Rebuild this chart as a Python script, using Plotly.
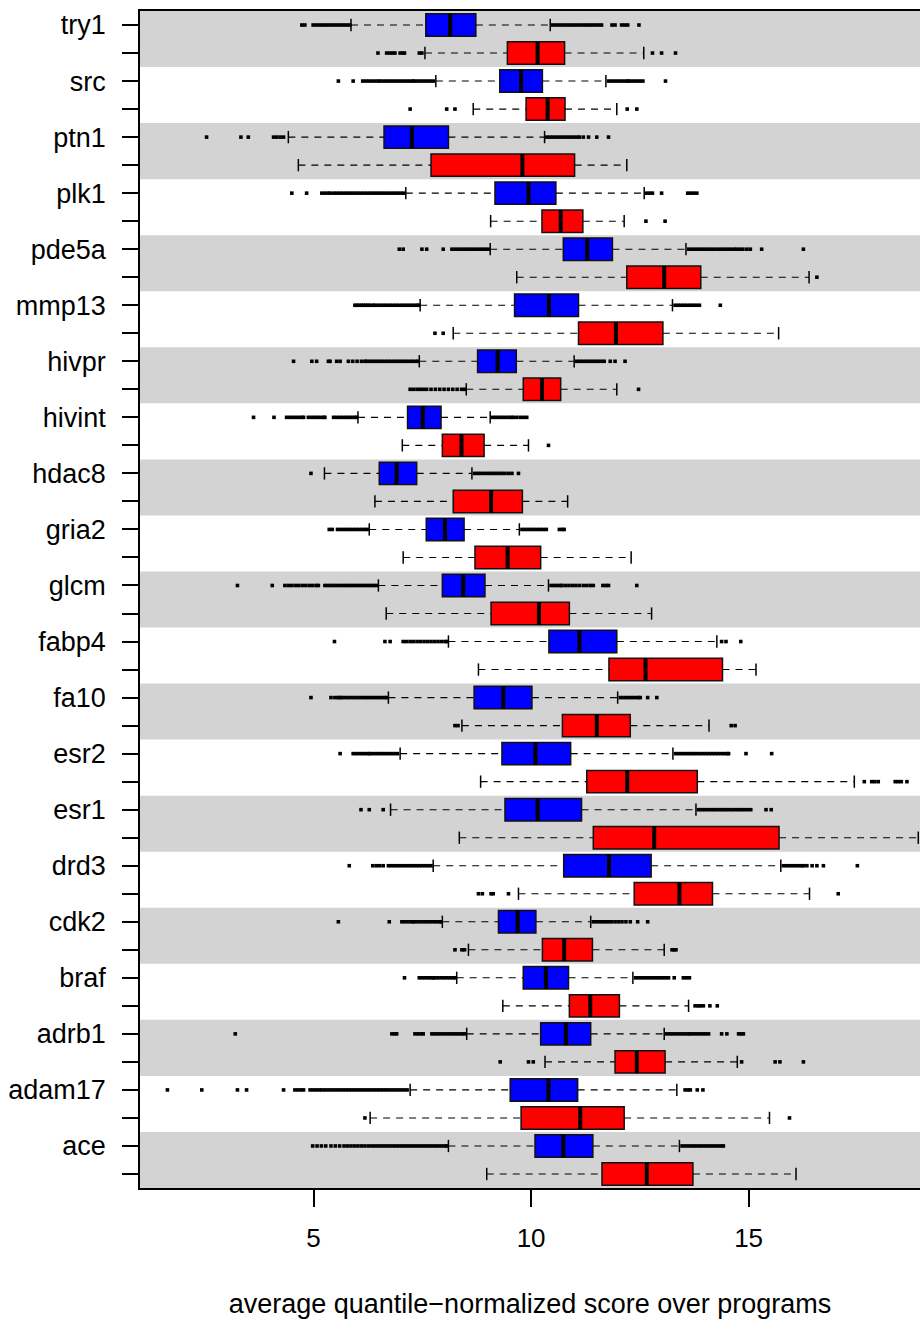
import plotly.graph_objects as go

targets = ["try1", "src", "ptn1", "plk1", "pde5a", "mmp13", "hivpr", "hivint", "hdac8", "gria2",
           "glcm", "fabp4", "fa10", "esr2", "esr1", "drd3", "cdk2", "braf", "adrb1", "adam17", "ace"]

blue_lo = [5.86, 7.81, 4.42, 7.12, 9.06, 7.45, 7.43, 6.02, 5.25, 6.28, 6.49, 8.10, 6.72, 6.99, 6.77, 7.75, 7.96, 8.29, 8.52, 7.22, 8.10]
blue_q1 = [7.58, 9.28, 6.62, 9.17, 10.74, 9.62, 8.77, 7.16, 6.51, 7.59, 7.96, 10.41, 8.69, 9.33, 9.40, 10.75, 9.25, 9.82, 10.22, 9.52, 10.09]
blue_med = [8.14, 9.77, 7.26, 9.94, 11.29, 10.41, 9.23, 7.51, 6.91, 8.02, 8.44, 11.11, 9.36, 10.10, 10.15, 11.79, 9.69, 10.34, 10.80, 10.40, 10.74]
blue_q3 = [8.73, 10.26, 8.10, 10.57, 11.87, 11.09, 9.66, 7.93, 7.37, 8.46, 8.94, 11.97, 10.02, 10.91, 11.16, 12.76, 10.11, 10.86, 11.37, 11.07, 11.42]
blue_hi = [10.44, 11.72, 10.31, 12.60, 13.56, 13.25, 10.99, 9.06, 8.64, 9.73, 10.40, 14.27, 11.99, 13.26, 13.79, 15.74, 11.37, 12.34, 13.06, 13.35, 13.41]

red_lo = [7.56, 8.67, 4.65, 9.07, 9.67, 8.21, 8.51, 7.04, 6.41, 7.06, 6.67, 8.79, 8.41, 8.84, 8.35, 9.71, 8.56, 9.35, 10.32, 6.30, 8.98]
red_q1 = [9.455, 9.885, 7.70, 10.25, 12.20, 11.09, 9.82, 7.96, 8.21, 8.71, 9.08, 11.79, 10.72, 11.28, 11.43, 12.37, 10.26, 10.88, 11.93, 9.77, 11.63]
red_med = [10.15, 10.38, 9.80, 10.68, 13.06, 11.95, 10.25, 8.40, 9.08, 9.46, 10.18, 12.63, 11.51, 12.21, 12.83, 13.41, 10.76, 11.36, 12.43, 11.13, 12.66]
red_q3 = [10.77, 10.78, 11.00, 11.19, 13.90, 13.03, 10.68, 8.92, 9.80, 10.22, 10.88, 14.40, 12.28, 13.82, 15.70, 14.17, 11.41, 12.03, 13.08, 12.14, 13.72]
red_hi = [12.59, 11.97, 12.20, 12.14, 16.39, 15.69, 11.97, 9.94, 10.84, 12.30, 12.77, 15.17, 14.09, 17.43, 18.90, 16.40, 13.06, 13.62, 14.74, 15.48, 16.09]

blue_out = [
    # try1
    [4.73, 4.80, 4.99, 5.06, 5.13, 5.20, 5.27, 5.34, 5.41, 5.48, 5.55, 5.62, 5.69, 5.76, 5.83,
     10.50, 10.57, 10.64, 10.71, 10.78, 10.85, 10.92, 10.99, 11.06, 11.13, 11.20, 11.27, 11.34, 11.41,
     11.48, 11.55, 11.62, 11.86, 11.93, 12.08, 12.15, 12.22, 12.48],
    # src
    [5.57, 5.91, 6.13, 6.20, 6.27, 6.34, 6.41, 6.48, 6.53, 6.60, 6.67, 6.74, 6.81, 6.88, 6.95, 7.02,
     7.09, 7.16, 7.23, 7.29, 7.33, 7.40, 7.47, 7.54, 7.61, 7.68, 7.75,
     11.78, 11.85, 11.92, 11.99, 12.06, 12.13, 12.20, 12.24, 12.29, 12.36, 12.43, 12.50, 12.57, 13.09],
    # ptn1
    [2.54, 3.33, 3.50, 4.08, 4.15, 4.23, 4.31,
     10.36, 10.43, 10.50, 10.57, 10.64, 10.71, 10.78, 10.85, 10.92, 10.99, 11.06, 11.11, 11.20, 11.32,
     11.51, 11.78],
    # plk1
    [4.50, 4.84, 5.19, 5.26, 5.33, 5.38, 5.46, 5.53, 5.60, 5.67, 5.74, 5.81, 5.88, 5.95, 6.02, 6.09,
     6.16, 6.23, 6.30, 6.37, 6.44, 6.51, 6.58, 6.65, 6.72, 6.79, 6.86, 6.93, 7.00, 7.07,
     12.66, 12.73, 12.79, 13.00, 13.60, 13.67, 13.74, 13.81],
    # pde5a
    [6.97, 7.06, 7.49, 7.60, 7.98, 8.18, 8.25, 8.32, 8.39, 8.46, 8.53, 8.60, 8.67, 8.74, 8.81, 8.88,
     8.95, 9.02,
     13.62, 13.69, 13.76, 13.83, 13.90, 13.97, 14.04, 14.11, 14.18, 14.25, 14.32, 14.39, 14.46, 14.53,
     14.60, 14.67, 14.73, 14.80, 14.87, 14.96, 15.04, 15.30, 16.26],
    # mmp13
    [5.95, 6.00, 6.05, 6.10, 6.15, 6.20, 6.25, 6.30, 6.37, 6.41, 6.48, 6.55, 6.62, 6.68, 6.75, 6.82,
     6.89, 6.96, 7.03, 7.10, 7.17, 7.24, 7.31, 7.38, 7.41,
     13.31, 13.38, 13.45, 13.52, 13.59, 13.66, 13.73, 13.80, 13.87, 14.35],
    # hivpr
    [4.54, 4.96, 5.07, 5.34, 5.38, 5.53, 5.61, 5.80, 5.90, 6.00, 6.10, 6.18, 6.22, 6.29, 6.36, 6.43,
     6.50, 6.57, 6.64, 6.71, 6.78, 6.85, 6.92, 6.99, 7.06, 7.13, 7.20, 7.27, 7.34, 7.40,
     11.05, 11.12, 11.19, 11.26, 11.33, 11.40, 11.47, 11.54, 11.61, 11.68, 11.82, 11.93, 12.16],
    # hivint
    [3.62, 4.09, 4.38, 4.45, 4.52, 4.59, 4.66, 4.73, 4.77, 4.88, 4.95, 5.02, 5.09, 5.16, 5.23, 5.26,
     5.46, 5.53, 5.60, 5.67, 5.74, 5.81, 5.88, 5.95, 5.99,
     9.12, 9.19, 9.26, 9.33, 9.40, 9.47, 9.54, 9.59, 9.67, 9.75, 9.83, 9.90],
    # hdac8
    [4.94, 8.70, 8.77, 8.84, 8.91, 8.98, 9.05, 9.12, 9.19, 9.26, 9.33, 9.40, 9.48, 9.56, 9.71],
    # gria2
    [5.36, 5.43, 5.55, 5.62, 5.69, 5.76, 5.83, 5.90, 5.97, 6.04, 6.11, 6.18, 6.24,
     9.79, 9.86, 9.93, 10.00, 10.07, 10.14, 10.21, 10.28, 10.35, 10.65, 10.72, 10.76],
    # glcm
    [3.25, 4.05, 4.34, 4.42, 4.50, 4.58, 4.66, 4.74, 4.82, 4.90, 4.98, 5.06, 5.11, 5.26, 5.33, 5.40,
     5.47, 5.54, 5.61, 5.68, 5.75, 5.82, 5.89, 5.96, 6.03, 6.10, 6.17, 6.24, 6.31, 6.38, 6.45,
     10.46, 10.53, 10.60, 10.67, 10.71, 10.79, 10.87, 10.95, 11.03, 11.11, 11.20, 11.28, 11.36, 11.43,
     11.65, 11.72, 11.78, 12.43],
    # fabp4
    [5.48, 6.64, 6.76, 7.06, 7.14, 7.22, 7.30, 7.38, 7.46, 7.54, 7.62, 7.70, 7.78, 7.86, 7.94, 8.02,
     8.06, 14.38, 14.48, 14.82],
    # fa10
    [4.94, 5.40, 5.49, 5.56, 5.61, 5.65, 5.72, 5.79, 5.86, 5.93, 6.00, 6.07, 6.14, 6.21, 6.28, 6.35,
     6.42, 6.49, 6.56, 6.63, 6.68,
     12.05, 12.12, 12.19, 12.26, 12.33, 12.40, 12.47, 12.51, 12.68, 12.89],
    # esr2
    [5.61, 5.91, 5.98, 6.05, 6.12, 6.19, 6.26, 6.30, 6.37, 6.44, 6.51, 6.58, 6.65, 6.72, 6.79, 6.86,
     6.93,
     13.32, 13.39, 13.46, 13.53, 13.60, 13.67, 13.74, 13.81, 13.88, 13.95, 14.02, 14.09, 14.16, 14.23,
     14.30, 14.37, 14.44, 14.51, 14.54, 14.94, 15.53],
    # esr1
    [6.09, 6.28, 6.60,
     13.85, 13.92, 13.99, 14.06, 14.13, 14.20, 14.27, 14.34, 14.41, 14.48, 14.55, 14.62, 14.69, 14.76,
     14.83, 14.90, 14.97, 15.05, 15.40, 15.52],
    # drd3
    [5.82, 6.36, 6.44, 6.52, 6.60, 6.72, 6.79, 6.86, 6.93, 7.00, 7.07, 7.14, 7.21, 7.28, 7.35, 7.42,
     7.49, 7.56, 7.63, 7.70,
     15.80, 15.87, 15.94, 16.01, 16.08, 16.15, 16.22, 16.26, 16.34, 16.46, 16.57, 16.72, 17.50],
    # cdk2
    [5.57, 6.74, 7.03, 7.10, 7.17, 7.24, 7.29, 7.33, 7.40, 7.47, 7.54, 7.61, 7.68, 7.75, 7.82, 7.89,
     7.93,
     11.43, 11.50, 11.57, 11.64, 11.71, 11.78, 11.85, 11.93, 12.01, 12.09, 12.18, 12.28, 12.45, 12.68],
    # braf
    [7.09, 7.43, 7.50, 7.57, 7.64, 7.71, 7.75, 7.79, 7.86, 7.93, 8.00, 8.07, 8.14, 8.21, 8.26,
     12.40, 12.47, 12.54, 12.61, 12.68, 12.75, 12.82, 12.89, 12.95, 13.02, 13.09, 13.16, 13.29, 13.50,
     13.57, 13.64],
    # adrb1
    [3.20, 6.80, 6.86, 6.91, 7.33, 7.40, 7.47, 7.52, 7.72, 7.79, 7.86, 7.93, 8.00, 8.07, 8.14, 8.21,
     8.28, 8.35, 8.42, 8.48,
     13.12, 13.19, 13.26, 13.33, 13.40, 13.47, 13.54, 13.61, 13.66, 13.73, 13.80, 13.87, 13.94, 14.01,
     14.08, 14.38, 14.50, 14.77, 14.83, 14.88],
    # adam17
    [1.64, 2.43, 3.25, 3.46, 4.31, 4.57, 4.64, 4.71, 4.77, 4.92, 4.99, 5.06, 5.13, 5.19, 5.26, 5.33,
     5.40, 5.47, 5.54, 5.61, 5.68, 5.75, 5.82, 5.89, 5.96, 6.03, 6.10, 6.17, 6.24, 6.31, 6.38, 6.45,
     6.52, 6.59, 6.66, 6.73, 6.80, 6.87, 6.94, 7.01, 7.08, 7.15,
     13.54, 13.61, 13.66, 13.82, 13.95],
    # ace
    [4.98, 5.08, 5.18, 5.28, 5.40, 5.50, 5.60, 5.70, 5.78, 5.86, 5.94, 6.02, 6.10, 6.18, 6.26, 6.34,
     6.41, 6.48, 6.55, 6.62, 6.69, 6.76, 6.83, 6.90, 6.97, 7.04, 7.11, 7.18, 7.25, 7.32, 7.39, 7.46,
     7.53, 7.60, 7.67, 7.74, 7.81, 7.88, 7.95, 8.02, 8.06,
     13.47, 13.54, 13.61, 13.68, 13.75, 13.82, 13.89, 13.96, 14.03, 14.10, 14.17, 14.24, 14.31, 14.38,
     14.42],
]

red_out = [
    [6.48, 6.68, 6.75, 6.82, 6.87, 6.99, 7.05, 7.09, 7.43, 7.49, 12.79, 13.00, 13.32],  # try1
    [7.22, 8.06, 8.25, 12.21, 12.43],  # src
    [],  # ptn1
    [12.64, 13.08],  # plk1
    [16.57],  # pde5a
    [7.79, 7.98],  # mmp13
    [7.22, 7.30, 7.38, 7.45, 7.52, 7.60, 7.70, 7.80, 7.90, 8.00, 8.10, 8.20, 8.30, 8.40, 8.47, 12.47],  # hivpr
    [10.40],  # hivint
    [],  # hdac8
    [],  # gria2
    [],  # glcm
    [],  # fabp4
    [8.25, 8.32, 14.60, 14.69],  # fa10
    [17.66, 17.83, 17.90, 17.98, 18.37, 18.44, 18.51, 18.64],  # esr2
    [],  # esr1
    [8.79, 8.88, 9.08, 9.13, 9.48, 17.06],  # drd3
    [8.25, 8.41, 8.47, 13.24, 13.29, 13.33],  # cdk2
    [13.77, 13.84, 13.89, 13.96, 14.11, 14.28],  # braf
    [9.29, 9.94, 10.05, 14.84, 15.61, 15.72, 16.26],  # adrb1
    [6.18, 15.94],  # adam17
    [],  # ace
]

n = len(targets)
blue_pos = [2 * n - 2 * i for i in range(n)]
red_pos = [2 * n - 2 * i - 1 for i in range(n)]

BOXW = 0.8
CAPH = 0.22
FONT = "Liberation Sans, Arial, Helvetica, sans-serif"

fig = go.Figure()

# background bands
for i in range(n):
    if i % 2 == 0:
        fig.add_shape(type="rect", xref="paper", yref="y", x0=0, x1=1,
                      y0=red_pos[i] - 0.5, y1=blue_pos[i] + 0.5,
                      fillcolor="#d3d3d3", line_width=0, layer="below")


def add_series(pos, lo, q1, med, q3, hi, outs, color):
    wx, wy = [], []
    cx, cy = [], []
    mx, my = [], []
    ox, oy = [], []
    for p, a, b, m, c, d, o in zip(pos, lo, q1, med, q3, hi, outs):
        wx += [a, b, None, c, d, None]
        wy += [p, p, None, p, p, None]
        cx += [a, a, None, d, d, None]
        cy += [p - CAPH, p + CAPH, None, p - CAPH, p + CAPH, None]
        mx += [m, m, None]
        my += [p - BOXW / 2, p + BOXW / 2, None]
        ox += o
        oy += [p] * len(o)
    fig.add_trace(go.Bar(y=pos, x=[c - b for b, c in zip(q1, q3)], base=q1, orientation="h",
                         width=BOXW, marker=dict(color=color, line=dict(color="#111111", width=1.5)),
                         showlegend=False, hoverinfo="skip"))
    fig.add_trace(go.Scatter(x=wx, y=wy, mode="lines", line=dict(color="black", width=1.1, dash="7px,6px"),
                             showlegend=False, hoverinfo="skip"))
    fig.add_trace(go.Scatter(x=cx, y=cy, mode="lines", line=dict(color="black", width=1.5),
                             showlegend=False, hoverinfo="skip"))
    fig.add_trace(go.Scatter(x=ox, y=oy, mode="markers",
                             marker=dict(symbol="square", size=3.6, color="black", line_width=0),
                             showlegend=False, hoverinfo="skip", cliponaxis=True))
    fig.add_trace(go.Scatter(x=mx, y=my, mode="lines", line=dict(color="black", width=4),
                             showlegend=False, hoverinfo="skip"))


add_series(blue_pos, blue_lo, blue_q1, blue_med, blue_q3, blue_hi, blue_out, "#0000ff")
add_series(red_pos, red_lo, red_q1, red_med, red_q3, red_hi, red_out, "#ff0000")

tickvals = []
ticktext = []
for i in range(n):
    tickvals += [blue_pos[i], red_pos[i]]
    ticktext += [targets[i], ""]

fig.update_layout(
    width=920, height=1320,
    margin=dict(l=140, r=0, t=11, b=132),
    plot_bgcolor="white", paper_bgcolor="white",
    barmode="overlay",
    font=dict(family=FONT, color="black", size=27),
    xaxis=dict(range=[1.01, 18.94], tickvals=[5, 10, 15], ticks="outside", ticklen=17, tickwidth=1.5,
               tickcolor="black", showline=True, linecolor="black", linewidth=1.5, mirror=True,
               showgrid=False, zeroline=False, tickfont=dict(size=26), ticklabelstandoff=9,
               title=dict(text="average quantile\u2212normalized score over programs",
                          font=dict(size=27), standoff=42)),
    yaxis=dict(range=[0.5, 42.5], tickvals=tickvals, ticktext=ticktext, ticks="outside", ticklen=16,
               tickwidth=1.5, tickcolor="black", showline=True, linecolor="black", linewidth=1.5,
               showgrid=False, zeroline=False, tickfont=dict(size=27), ticklabelstandoff=11),
)

fig.write_html("out.html")
